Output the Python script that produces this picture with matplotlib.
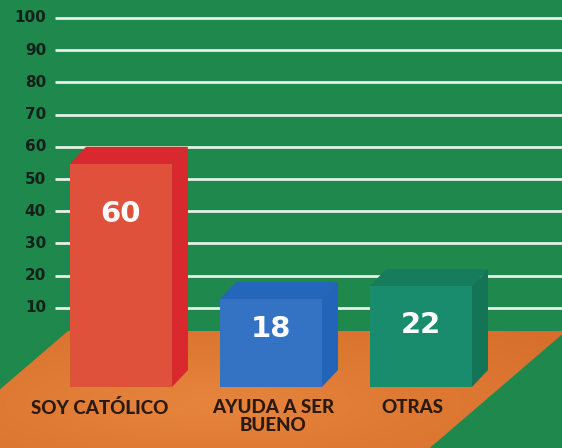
import numpy as np
import matplotlib
matplotlib.use("Agg")
import matplotlib.pyplot as plt
from matplotlib.patches import Polygon

# ---- data ----
categories = ["SOY CATÓLICO", "AYUDA A SER\nBUENO", "OTRAS"]
values = [60, 18, 22]
tick_values = [10, 20, 30, 40, 50, 60, 70, 80, 90, 100]

# ---- style / layout ----
BG = "#1f884c"
GRID = "#e6f0e4"
TICK_COL = "#13201a"
LABEL_COL = "#2a1a12"
front_cols = ["#e0513b", "#3473c3", "#1a8c6e"]
shade_cols = ["#d9282e", "#2464b8", "#137555"]
top_cols = ["#d9282e", "#2466b9", "#167c5c"]

PX = 3.22             # pixels per value unit on the back wall
ZERO_PX = 340          # pixel row of the back-wall zero
W, H = 562, 448
y_top = ZERO_PX / PX
y_bot = (ZERO_PX - H) / PX

def ypx(p):
    return (ZERO_PX - p) / PX

fig = plt.figure(figsize=(W / 100, H / 100), dpi=100)
fig.patch.set_facecolor(BG)
ax = fig.add_axes([0, 0, 1, 1])
ax.set_facecolor(BG)
ax.set_xlim(0, W)
ax.set_ylim(y_bot, y_top)
ax.axis("off")

# gridlines + tick labels on the back wall
for v in tick_values:
    ax.plot([55, W], [v, v], color=GRID, lw=2.0, zorder=1, solid_capstyle="butt")
    ax.text(46, v, str(v), ha="right", va="center", fontsize=11,
            fontweight="bold", color=TICK_COL, family="DejaVu Sans", zorder=2)

# floor (orange parallelogram with soft gradient)
floor_top = ypx(331)
slant = 140
floor_pts = [(68, floor_top), (566, floor_top), (566 - slant, y_bot - 1), (68 - slant, y_bot - 1)]
floor = Polygon(floor_pts, closed=True, facecolor="none", edgecolor="none", zorder=2)
ax.add_patch(floor)
gx = np.linspace(0, 1, 200)
gy = np.linspace(0, 1, 100)
GX, GY = np.meshgrid(gx, gy)
r = np.sqrt(((GX - 0.45) / 0.7) ** 2 + ((GY - 0.6) / 0.9) ** 2)
r = np.clip(r, 0, 1)
c_in = np.array([230, 132, 60]) / 255
c_out = np.array([214, 110, 44]) / 255
img = c_in[None, None, :] * (1 - r[..., None]) + c_out[None, None, :] * r[..., None]
im = ax.imshow(img, extent=[-80, W, y_bot - 1, floor_top], origin="upper",
               aspect="auto", zorder=2, interpolation="bilinear")
im.set_clip_path(floor)
ax.set_xlim(0, W)
ax.set_ylim(y_bot, y_top)

# bars
bar_w = 102
step = 150
first_left = 70
depth_x = 16
depth_y = 17 / PX
front_bottom = ypx(387)
label_dx = [-21, 2, -9]
value_drop_px = [50, 30, 39]

for i, (cat, val) in enumerate(zip(categories, values)):
    L = first_left + step * i
    R = L + bar_w
    ft = val - depth_y          # front top (back top sits on the value gridline)
    fb = front_bottom
    side = Polygon([(R, fb), (R, ft), (R + depth_x, ft + depth_y), (R + depth_x, fb + depth_y)],
                   closed=True, facecolor=shade_cols[i], edgecolor="none", zorder=4)
    top = Polygon([(L, ft), (L + depth_x, ft + depth_y), (R + depth_x, ft + depth_y), (R, ft)],
                  closed=True, facecolor=top_cols[i], edgecolor="none", zorder=4)
    ax.add_patch(side)
    ax.add_patch(top)
    ax.bar(L + bar_w / 2, ft - fb, bottom=fb, width=bar_w, color=front_cols[i],
           edgecolor="none", zorder=5)
    ax.text(L + bar_w / 2, ft - value_drop_px[i] / PX, str(val), ha="center", va="center",
            fontsize=21, fontweight="bold", color="white", family="DejaVu Sans", zorder=6)
    ax.text(L + bar_w / 2 + label_dx[i], ypx(399), cat, ha="center", va="top",
            fontsize=13.5, fontweight="black", color=LABEL_COL, family=["Lato", "DejaVu Sans"],
            linespacing=1.08, zorder=6)

fig.savefig("out.png", dpi=100, facecolor=BG)
